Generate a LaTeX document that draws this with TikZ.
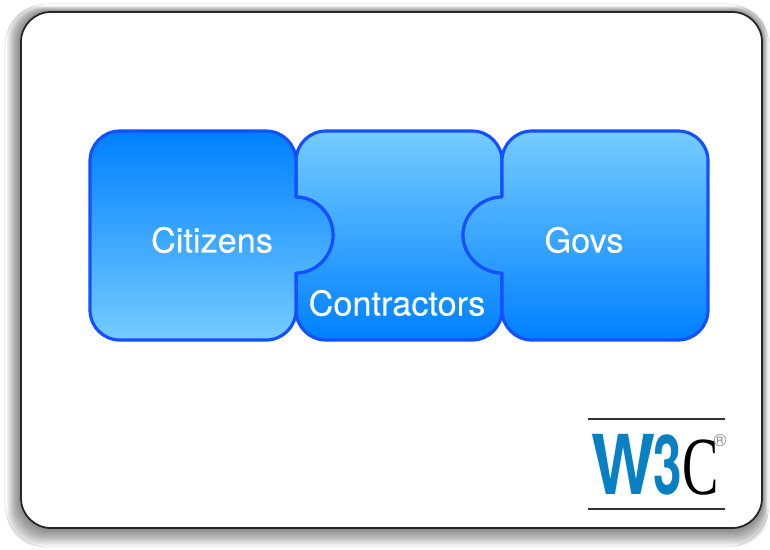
\documentclass[tikz,border=0pt]{standalone}
\usepackage{fontspec}
\setmainfont{TeX Gyre Heros}
\newfontfamily\logofont{Liberation Serif}
\newfontfamily\piecefont[FakeBold=0.25]{TeX Gyre Heros}
\usetikzlibrary{calc}
\definecolor{piecelight}{HTML}{75CCFF}
\definecolor{piecedark}{HTML}{0080FF}
\definecolor{pieceline}{HTML}{1450FF}
\definecolor{logoblue}{HTML}{0A80C4}
\tikzset{
	piece/.style={draw=pieceline,line width=1.8pt,line join=round},
	lighttop/.style={top color=piecelight,bottom color=piecedark},
	darktop/.style={top color=piecedark,bottom color=piecelight},
	piecelabel/.style={text=white,font=\piecefont\fontsize{19.5}{22}\selectfont},
	logorule/.style={draw=black!80,line width=0.8pt}
}
\begin{document}
\begin{tikzpicture}[x=0.02cm,y=-0.02cm]
	\useasboundingbox (0,0) rectangle (770,549);

	%card and its shadow
	\draw[black!12,rounded corners=24pt,line width=0.4pt] (5,4) rectangle (769,547);
	\foreach \t in {1,0.9,0.8,0.7,0.6,0.5,0.4,0.3,0.2,0.1}
		\fill[black,opacity=0.06,rounded corners=18pt] ($(21,12)+(-14*\t,-6*\t)$) rectangle ($(762,528)+(6*\t,18*\t)$);
	\draw[black!85,fill=white,rounded corners=17pt,line width=1pt] (21,12) rectangle (762,528);

	%pieces
	\draw[piece,lighttop] (296,197) .. controls (316,197) and (333,214) .. (333,235) .. controls (333,256) and (316,273) .. (296,273)
		[rounded corners=17pt] -- (296,340) -- (502,340) [sharp corners] -- (502,273)
		.. controls (482,273) and (463,256) .. (463,235) .. controls (463,214) and (482,197) .. (502,197)
		[rounded corners=17pt] -- (502,131) -- (296,131) [sharp corners] -- cycle;
	\draw[piece,darktop] (296,197) .. controls (316,197) and (333,214) .. (333,235) .. controls (333,256) and (316,273) .. (296,273)
		[rounded corners=17pt] -- (296,340) -- (90,340) -- (90,131) -- (296,131) [sharp corners] -- cycle;
	\draw[piece,lighttop] (502,197) .. controls (482,197) and (463,214) .. (463,235) .. controls (463,256) and (482,273) .. (502,273)
		[rounded corners=17pt] -- (502,340) -- (708,340) -- (708,131) -- (502,131) [sharp corners] -- cycle;

	%piece labels
	\node[piecelabel] (citizens) at (212,240) {Citizens};
	\node[piecelabel] (contractors) at (397,303) {Contractors};
	\node[piecelabel] (govs) at (584,240) {Govs};

	%logo
	\draw[logorule] (588,419) -- (725,419);
	\draw[logorule] (588,509) -- (725,509);
	\node[inner sep=0pt] (logo) at (655,465) {\fontsize{47}{50}\selectfont\textcolor{logoblue}{\bfseries\scalebox{.82}[1]{W}\kern-1pt\scalebox{.62}[1]{3}}\textcolor{black}{\logofont\scalebox{.66}[1]{C}}};
	\node[inner sep=0pt,text=black!45] (regmark) at (720,441) {\fontsize{10}{10}\selectfont ®};
\end{tikzpicture}
\end{document}
